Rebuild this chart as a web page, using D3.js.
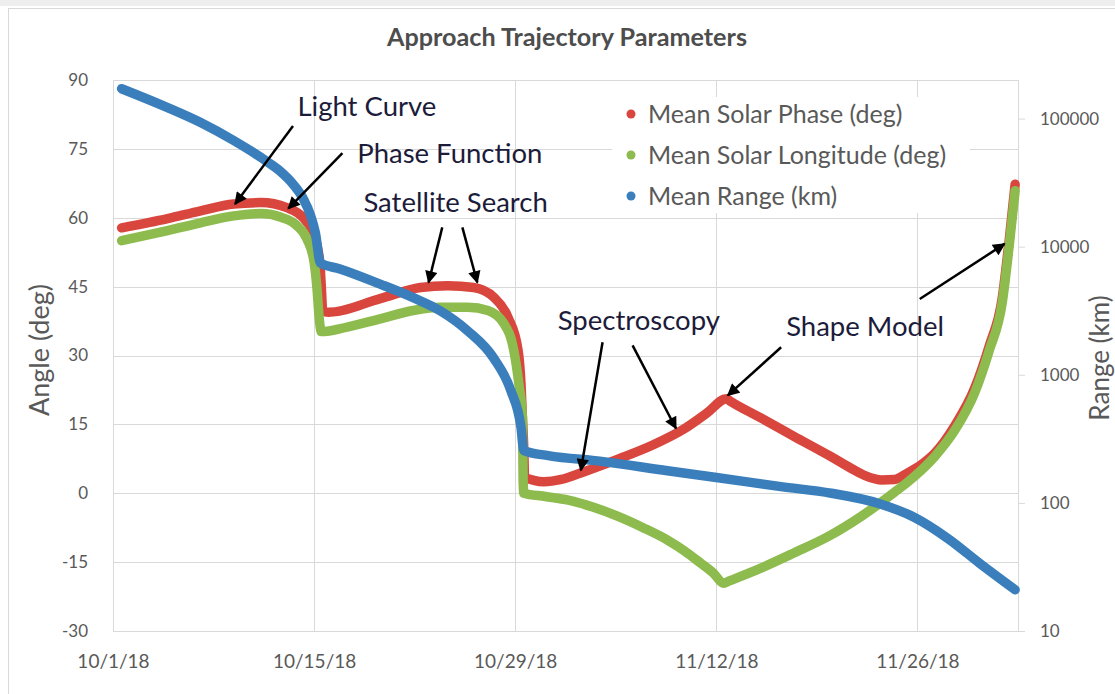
<!DOCTYPE html>
<html>
<head>
<meta charset="utf-8">
<script src="https://cdn.jsdelivr.net/npm/d3@7"></script>
<style>
  body { margin: 0; background: #fff; }
  text { font-family: Lato, "Open Sans", sans-serif; }
</style>
</head>
<body>
<svg id="chart" width="1115" height="694"></svg>
<script>
// chart data
const DAY = 864e5;
const startDate = Date.UTC(2018, 9, 1);
const endDate = Date.UTC(2018, 11, 3);

const dateTicks = ["10/1/18", "10/15/18", "10/29/18", "11/12/18", "11/26/18"];
const angleTicks = [-30, -15, 0, 15, 30, 45, 60, 75, 90];
const rangeTicks = [10, 100, 1000, 10000, 100000];

// [days since 10/1/18, value]
const phaseData = [
  [0.6, 57.8], [3.8, 59.8], [6.1, 61.5], [8.4, 63.0], [10.3, 63.3], [12.1, 62.2],
  [13.3, 59.8], [14.0, 56.1], [14.4, 50.2], [14.5, 45.0], [14.6, 39.8], [15.0, 39.4],
  [18.6, 42.4], [21.4, 44.8], [23.3, 45.2], [25.1, 44.8], [26.5, 42.7], [27.5, 38.3],
  [28.2, 31.1], [28.4, 23.9], [28.5, 16.6], [28.6, 9.3], [28.65, 3.5], [29.3, 2.8],
  [30.0, 2.5], [31.2, 3.0], [32.8, 4.7], [35.2, 7.5], [37.5, 10.4], [39.8, 14.1],
  [41.4, 17.6], [42.7, 20.6], [43.0, 20.0], [45.1, 16.4], [47.4, 12.4], [49.8, 8.3],
  [51.4, 5.4], [52.4, 3.8], [53.5, 2.9], [54.4, 3.0], [55.3, 4.4], [56.3, 6.3],
  [57.2, 8.7], [58.6, 14.7], [60.0, 23.0], [61.0, 32.1], [61.9, 42.5], [62.4, 55.5],
  [62.8, 67.3]
];
const longitudeData = [
  [0.6, 55.0], [3.8, 57.2], [6.1, 58.9], [8.4, 60.4], [10.3, 60.9], [11.7, 60.1],
  [12.8, 58.3], [13.5, 55.4], [14.0, 50.3], [14.2, 44.6], [14.35, 38.3], [14.5, 35.2],
  [16.3, 36.2], [18.6, 38.0], [20.9, 39.8], [22.8, 40.5], [24.7, 40.5], [26.1, 39.8],
  [27.2, 37.0], [27.9, 31.1], [28.25, 23.9], [28.5, 16.6], [28.55, 2.8], [28.6, 0.0],
  [30.1, -0.7], [31.7, -1.5], [33.4, -3.0], [35.2, -5.1], [36.9, -7.5], [38.6, -10.2],
  [39.8, -12.6], [40.9, -15.2], [41.8, -17.4], [42.5, -19.6], [42.9, -19.1], [45.1, -16.3],
  [47.4, -13.0], [49.8, -9.4], [52.1, -5.0], [54.4, 0.2], [55.8, 3.7], [57.2, 8.0],
  [58.6, 13.7], [60.0, 22.0], [61.0, 31.1], [61.9, 41.5], [62.4, 54.3], [62.8, 65.9]
];
const rangeData = [
  [0.6, 171000], [3.8, 121800], [6.1, 93100], [8.4, 67400], [10.7, 46300], [11.65, 38700],
  [12.55, 30600], [13.25, 23600], [13.74, 17700], [14.09, 12800], [14.44, 7450], [15.8, 6700],
  [18.6, 5100], [20.9, 4000], [22.8, 3150], [24.7, 2200], [26.5, 1350], [27.7, 750],
  [28.4, 390], [28.6, 256], [30.3, 234], [34.0, 211], [38.6, 178], [42.0, 158],
  [46.5, 134], [50.0, 119], [53.3, 99], [55.8, 77], [58.2, 52], [60.3, 34], [62.8, 21]
];

const seriesNames = ["Mean Solar Phase (deg)", "Mean Solar Longitude (deg)", "Mean Range (km)"];
const seriesColors = ["#d9463e", "#8dbb4e", "#3a7fbc"];

// annotations in data units: text anchor [day, deg], arrows [[fromDay, fromDeg], [toDay, toDeg]]
const notes = [
  { label: "Light Curve", at: [12.84, 84.3], arrows: [[[12.53, 80.0], [8.5, 63.0]]] },
  { label: "Phase Function", at: [17.0, 74.1], arrows: [[[15.97, 74.1], [12.2, 62.0]]] },
  { label: "Satellite Search", at: [17.43, 63.3],
    arrows: [[[22.92, 57.9], [21.97, 45.9]], [[24.32, 57.9], [25.36, 45.9]]] },
  { label: "Spectroscopy", at: [30.96, 37.6],
    arrows: [[[34.08, 32.9], [32.57, 5.0]], [[36.17, 32.2], [39.19, 14.1]]] },
  { label: "Shape Model", at: [46.86, 36.3],
    arrows: [[[46.51, 31.8], [42.8, 21.3]], [[56.16, 42.3], [62.06, 54.3]]] }
];

//SETUP/////////////////////////////////
const svg = d3.select("#chart");
const plotLeft = 113, plotRight = 1018, plotTop = 80, plotBottom = 631;

const toDate = (d) => new Date(startDate + d * DAY);
const x = d3.scaleUtc().domain([new Date(startDate), new Date(endDate)]).range([plotLeft, plotRight]);
const yAngle = d3.scaleLinear().domain([-30, 90]).range([plotBottom, plotTop]);
const yRange = d3.scaleLog().domain([10, 200000]).range([plotBottom, plotTop]);
const parseTick = d3.utcParse("%m/%d/%y");

// chart frame
svg.append("rect").attr("x", 0).attr("y", 0).attr("width", 1115).attr("height", 6).attr("fill", "#eeeeee");
svg.append("rect").attr("x", 8.5).attr("y", 8.5).attr("width", 1200).attr("height", 800)
  .attr("fill", "none").attr("stroke", "#d9d9d9");

//GRID//////////////////////////////////
const grid = svg.append("g").attr("stroke", "#d9d9d9").attr("stroke-width", 1);
grid.selectAll(".h").data(angleTicks).join("line")
  .attr("x1", plotLeft).attr("x2", plotRight)
  .attr("y1", (d) => Math.round(yAngle(d)) + 0.5).attr("y2", (d) => Math.round(yAngle(d)) + 0.5);
grid.selectAll(".v").data(dateTicks.map(parseTick).concat([new Date(endDate)])).join("line")
  .attr("x1", (d) => Math.round(x(d)) + 0.5).attr("x2", (d) => Math.round(x(d)) + 0.5)
  .attr("y1", plotTop).attr("y2", plotBottom);

//AXES//////////////////////////////////
const grey = "#595959";

const axLeft = svg.append("g").attr("transform", `translate(${plotLeft - 25},0)`)
  .call(d3.axisLeft(yAngle).tickValues(angleTicks).tickFormat((d) => String(d)).tickSize(0).tickPadding(0));
const axRight = svg.append("g").attr("transform", `translate(${plotRight},0)`)
  .call(d3.axisRight(yRange).tickValues(rangeTicks).tickFormat((d) => String(d)).tickSize(7).tickPadding(15));
const axBottom = svg.append("g").attr("transform", `translate(0,${plotBottom + 10})`)
  .call(d3.axisBottom(x).tickValues(dateTicks.map(parseTick)).tickFormat(d3.utcFormat("%-m/%-d/%y")).tickSize(0).tickPadding(14));

[axLeft, axRight, axBottom].forEach((g) => {
  g.select(".domain").remove();
  g.selectAll("text").attr("fill", grey).attr("font-size", 17);
  g.selectAll("line").attr("stroke", "#d9d9d9");
});
axBottom.selectAll("text").attr("font-size", 19);

// axis titles
svg.append("text").attr("transform", "translate(49,350) rotate(-90)")
  .attr("text-anchor", "middle").attr("font-size", 27).attr("fill", grey).text("Angle (deg)");
svg.append("text").attr("transform", "translate(1109,358) rotate(-90)")
  .attr("text-anchor", "middle").attr("font-size", 26).attr("fill", grey).text("Range (km)");

// title
svg.append("text").attr("x", 567).attr("y", 46).attr("text-anchor", "middle")
  .attr("font-size", 24).attr("font-weight", "bold").attr("fill", "#4d4d4d")
  .attr("textLength", 360).attr("lengthAdjust", "spacingAndGlyphs")
  .text("Approach Trajectory Parameters");

//SERIES////////////////////////////////
const lineAngle = d3.line().x((d) => x(toDate(d[0]))).y((d) => yAngle(d[1])).curve(d3.curveMonotoneX);
const lineRange = d3.line().x((d) => x(toDate(d[0]))).y((d) => yRange(d[1])).curve(d3.curveMonotoneX);

const series = [
  { data: phaseData, gen: lineAngle, color: seriesColors[0] },
  { data: longitudeData, gen: lineAngle, color: seriesColors[1] },
  { data: rangeData, gen: lineRange, color: seriesColors[2] }
];
svg.append("g").selectAll("path").data(series).join("path")
  .attr("d", (s) => s.gen(s.data))
  .attr("fill", "none").attr("stroke", (s) => s.color)
  .attr("stroke-width", 9.5).attr("stroke-linecap", "round").attr("stroke-linejoin", "round");

//LEGEND////////////////////////////////
const legend = svg.append("g").attr("transform", "translate(612,97)");
legend.append("rect").attr("width", 358).attr("height", 116).attr("fill", "#fff");
const rows = legend.selectAll("g").data(seriesNames).join("g")
  .attr("transform", (d, i) => `translate(19,${17 + i * 41})`);
rows.append("circle").attr("r", 4.5).attr("fill", (d, i) => seriesColors[i]);
rows.append("text").attr("x", 17).attr("dy", "0.36em").attr("font-size", 25)
  .attr("fill", grey).text((d) => d);

//ANNOTATIONS///////////////////////////
svg.append("defs").append("marker")
  .attr("id", "head").attr("viewBox", "0 0 10 10").attr("refX", 9).attr("refY", 5)
  .attr("markerWidth", 5.5).attr("markerHeight", 5).attr("orient", "auto")
  .append("path").attr("d", "M0,0L10,5L0,10Z").attr("fill", "#000");

const ann = svg.append("g");
notes.forEach((n) => {
  ann.append("text").attr("x", x(toDate(n.at[0]))).attr("y", yAngle(n.at[1]))
    .attr("dy", "0.35em").attr("font-size", 27.5).attr("fill", "#1c1c3a").text(n.label);
  n.arrows.forEach((a) => {
    ann.append("line")
      .attr("x1", x(toDate(a[0][0]))).attr("y1", yAngle(a[0][1]))
      .attr("x2", x(toDate(a[1][0]))).attr("y2", yAngle(a[1][1]))
      .attr("stroke", "#000").attr("stroke-width", 2.5).attr("marker-end", "url(#head)");
  });
});
</script>
</body>
</html>
